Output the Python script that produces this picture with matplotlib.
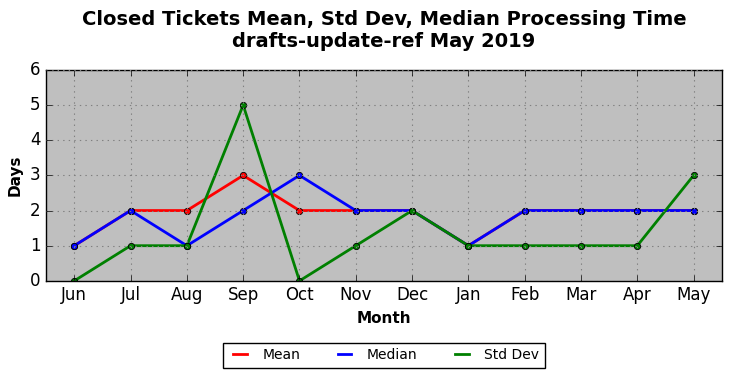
import matplotlib
matplotlib.use("Agg")
import matplotlib.pyplot as plt

months = ["Jun", "Jul", "Aug", "Sep", "Oct", "Nov", "Dec", "Jan", "Feb", "Mar", "Apr", "May"]
mean_days = [1, 2, 2, 3, 2, 2, 2, 1, 2, 2, 2, 2]
median_days = [1, 2, 1, 2, 3, 2, 2, 1, 2, 2, 2, 2]
std_days = [0, 1, 1, 5, 0, 1, 2, 1, 1, 1, 1, 3]

plt.style.use("classic")
fig = plt.figure(figsize=(7.32, 3.78), dpi=100, facecolor="white")
ax = fig.add_axes([0.063, 0.257, 0.923, 0.558])
ax.set_facecolor("#bfbfbf")

x = range(len(months))
ax.plot(x, mean_days, color="red", lw=2, marker="o", ms=4.5, mec="black", mew=0.6, label="Mean")
ax.plot(x, median_days, color="blue", lw=2, marker="o", ms=4.5, mec="black", mew=0.6, label="Median")
ax.plot(x, std_days, color="green", lw=2, marker="o", ms=4.5, mec="black", mew=0.6, label="Std Dev")

ax.set_xlim(-0.5, len(months) - 0.5)
ax.set_ylim(0, 6)
ax.set_xticks(list(x))
ax.set_xticklabels(months)
ax.tick_params(labelsize=12)
ax.grid(True, color="gray", linestyle=":", linewidth=0.8)
ax.set_xlabel("Month", fontsize=11, fontweight="bold")
ax.set_ylabel("Days", fontsize=11, fontweight="bold")
ax.set_title("Closed Tickets Mean, Std Dev, Median Processing Time\ndrafts-update-ref May 2019",
             fontsize=14, fontweight="bold", y=1.075)

leg = ax.legend(loc="upper center", bbox_to_anchor=(0.5, -0.26), ncol=3, fontsize=10,
                frameon=True, fancybox=False, handlelength=1.6, columnspacing=2.4)
for h in leg.legend_handles:
    h.set_marker("")

fig.savefig("out.png", dpi=100, facecolor="white")
